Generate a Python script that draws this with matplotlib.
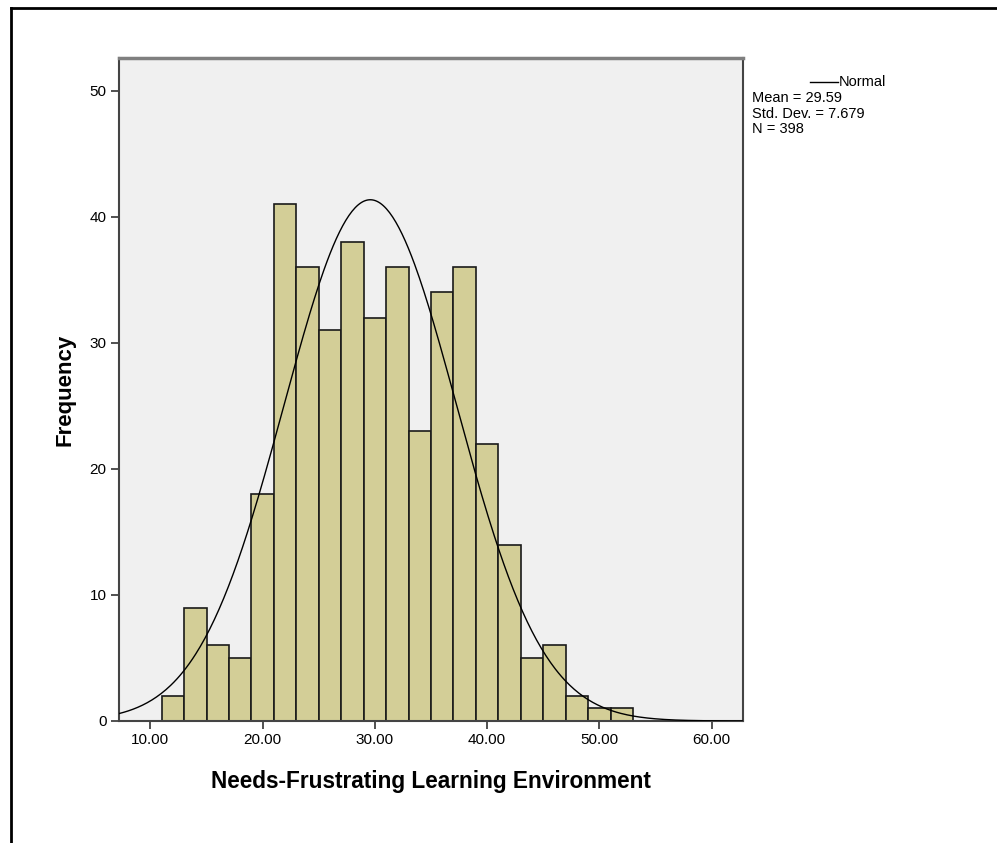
import numpy as np
import matplotlib.pyplot as plt
from matplotlib.lines import Line2D

plt.rcParams['font.family'] = ['Liberation Sans', 'DejaVu Sans']

# histogram counts, bin width 2 starting at 11
bin_left = [11, 13, 15, 17, 19, 21, 23, 25, 27, 29, 31, 33, 35, 37, 39, 41, 43, 45, 47, 49, 51]
counts = [2, 9, 6, 5, 18, 41, 36, 31, 38, 32, 36, 23, 34, 36, 22, 14, 5, 6, 2, 1, 1]
bin_width = 2

mean = 29.59
std = 7.679
n = 398

x_ticks = [10, 20, 30, 40, 50, 60]
y_ticks = [0, 10, 20, 30, 40, 50]

fig = plt.figure(figsize=(9.97, 8.43), dpi=100)
ax = fig.add_axes([119/997, 1 - 721/843, (743-119)/997, (721-58)/843])
ax.set_facecolor('#F0F0F0')

ax.bar(bin_left, counts, width=bin_width, align='edge', color='#D3CE97',
       edgecolor='#1a1a1a', linewidth=1.2, zorder=2)

# normal curve scaled to counts
xs = np.linspace(7.2, 62.8, 400)
ys = n * bin_width / (std * np.sqrt(2 * np.pi)) * np.exp(-0.5 * ((xs - mean) / std) ** 2)
ax.plot(xs, ys, color='black', linewidth=1.0, zorder=3)

ax.set_xlim(7.2, 62.8)
ax.set_ylim(0, 52.6)
ax.set_xticks(x_ticks)
ax.set_xticklabels(['%.2f' % t for t in x_ticks])
ax.set_yticks(y_ticks)
ax.set_yticklabels([str(t) for t in y_ticks])
ax.tick_params(axis='both', direction='out', length=6, width=1.2, color='#333333',
               labelsize=11, pad=3)

for side in ['left', 'right', 'bottom']:
    ax.spines[side].set_color('#444444')
    ax.spines[side].set_linewidth(1.5)
ax.spines['top'].set_color('#7f7f7f')
ax.spines['top'].set_linewidth(2.5)

ax.set_xlabel('Needs-Frustrating Learning Environment', fontsize=16.3, fontweight='bold', labelpad=16)
ax.set_ylabel('Frequency', fontsize=16, fontweight='bold', labelpad=10)

# legend / stats block to the right of the plot
fig.add_artist(Line2D([810/997, 838/997], [1 - 82/843, 1 - 82/843], color='black', linewidth=1.0))
fig.text(839/997, 1 - 82/843, 'Normal', fontsize=10.5, va='center', ha='left')
stats = ['Mean = %.2f' % mean, 'Std. Dev. = %.3f' % std, 'N = %d' % n]
for i, s in enumerate(stats):
    fig.text(752/997, 1 - (98 + 15.5 * i)/843, s, fontsize=10.5, va='center', ha='left')

# outer frame lines
fig.add_artist(Line2D([11/997, 1.0], [1 - 8/843, 1 - 8/843], color='black', linewidth=2.0))
fig.add_artist(Line2D([11/997, 11/997], [0, 1 - 8/843], color='black', linewidth=2.0))

fig.savefig('out.png', dpi=100)
